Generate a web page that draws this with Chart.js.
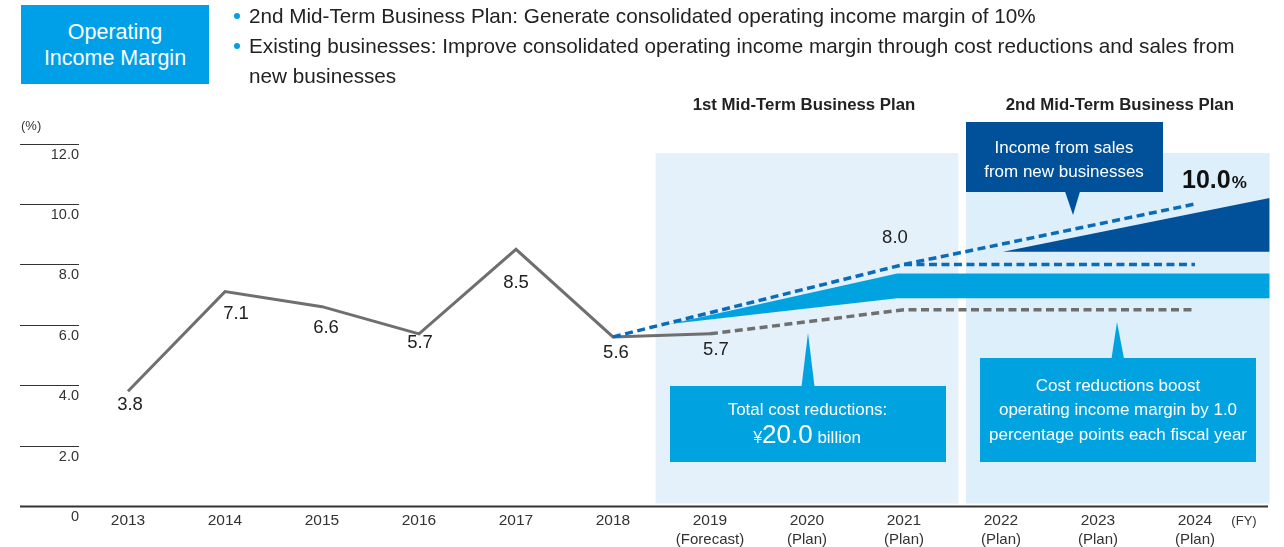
<!DOCTYPE html>
<html>
<head>
<meta charset="utf-8">
<script src="https://cdn.jsdelivr.net/npm/chart.js@4/dist/chart.umd.min.js"></script>
<style>
html,body{margin:0;padding:0;background:#fff;width:1284px;height:547px;overflow:hidden;}
#wrap{position:relative;width:1284px;height:547px;font-family:"Liberation Sans",Arial,sans-serif;}
#chart{position:absolute;left:0;top:0;}
.titlebox{position:absolute;left:21px;top:5px;width:188px;height:79px;background:#00a0e9;color:#fff;
  font-size:21.5px;line-height:26px;display:flex;align-items:center;justify-content:center;text-align:center;}
.bullets{position:absolute;left:249px;top:1px;font-size:20.7px;line-height:30px;color:#222;white-space:nowrap;}
.bullets div{position:relative;}
.bullets div::before{content:"";position:absolute;left:-15px;top:12px;width:6px;height:6px;border-radius:50%;background:#00a0e9;}
</style>
</head>
<body>
<div id="wrap">
  <canvas id="chart" width="1284" height="547"></canvas>
  <div class="titlebox">Operating<br>Income Margin</div>
  <div class="bullets">
    <div>2nd Mid-Term Business Plan: Generate consolidated operating income margin of 10%</div>
    <div>Existing businesses: Improve consolidated operating income margin through cost reductions and sales from<br>new businesses</div>
  </div>
</div>
<script>
// ---------------- data ----------------
const years = [2013, 2014, 2015, 2016, 2017, 2018, 2019, 2020, 2021, 2022, 2023, 2024];
const yearSubLabels = ['', '', '', '', '', '', '(Forecast)', '(Plan)', '(Plan)', '(Plan)', '(Plan)', '(Plan)'];
const yTicks = [0, 2, 4, 6, 8, 10, 12];

// actual results + FY2019 forecast (solid grey)
const actualYears = [2013, 2014, 2015, 2016, 2017, 2018, 2019];
const actualMargin = [3.8, 7.1, 6.6, 5.7, 8.5, 5.6, 5.7];

// margin from existing businesses without cost reductions (grey dashed)
const basePlanYears = [2019, 2021, 2024];
const basePlanMargin = [5.7, 6.5, 6.5];

// target path to 10% (blue dashed)
const targetYears = [2018, 2021, 2024];
const targetMargin = [5.6, 8.0, 10.0];

// existing business level held after 2021 (blue dashed, flat)
const existingYears = [2021, 2024];
const existingMargin = [8.0, 8.0];

// cost reduction effect band (cyan area)
const costBandYears = [2018.59, 2020.93, 2024.77];
const costBandTop = [6.03, 7.70, 7.70];
const costBandBottom = [6.03, 6.88, 6.88];

// income from new businesses (dark blue wedge)
const newBizYears = [2022.02, 2024.77];
const newBizTop = [8.42, 10.2];
const newBizBase = 8.42;

// mid-term plan periods (light backgrounds)
const phaseNames = ['1st Mid-Term Business Plan', '2nd Mid-Term Business Plan'];
const phaseStart = [2018.44, 2021.64];
const phaseEnd = [2021.56, 2024.77];
const phaseTop = 11.69;
const phaseBottom = 0.08;

// ---------------- styles ----------------
const FONT = '"Liberation Sans", Arial, sans-serif';
const CYAN = '#00a3e0';
const DARK = '#00519a';
const BLUE = '#0a6cb8';
const GREY = '#6f6f6f';
const TEXT = '#222';
const AXIS = '#333';
const PHASE_FILL = ['#e4f1fb', '#ddeffa'];

const actualLabelDx = [2, 11, 4, 1, 0, 3, 6];
const actualLabelDy = [14, 22, 21, 9, 33.5, 16, 16];

const pts = (xs, ys) => xs.map((x, i) => ({x: x, y: ys[i]}));

function callout(ctx, box, tip, fill) {
  ctx.save();
  ctx.fillStyle = fill;
  ctx.fillRect(box.x, box.y, box.w, box.h);
  ctx.beginPath();
  const by = tip.up ? box.y + 0.5 : box.y + box.h - 0.5;
  ctx.moveTo(tip.b0, by);
  ctx.lineTo(tip.x, tip.y);
  ctx.lineTo(tip.b1, by);
  ctx.closePath();
  ctx.fill();
  ctx.restore();
}
function text(ctx, s, x, y, font, color, align, base) {
  ctx.save();
  ctx.font = font;
  ctx.fillStyle = color;
  ctx.textAlign = align || 'center';
  ctx.textBaseline = base || 'middle';
  ctx.fillText(s, x, y);
  ctx.restore();
}

const overlay = {
  id: 'overlay',
  beforeDraw(chart) {
    const ctx = chart.ctx, xs = chart.scales.x, ys = chart.scales.y;
    ctx.save();
    phaseNames.forEach((n, i) => {
      const x0 = xs.getPixelForValue(phaseStart[i]);
      const x1 = xs.getPixelForValue(phaseEnd[i]);
      const y0 = ys.getPixelForValue(phaseTop);
      const y1 = ys.getPixelForValue(phaseBottom);
      ctx.fillStyle = PHASE_FILL[i];
      ctx.fillRect(x0, y0, x1 - x0, y1 - y0);
      text(ctx, n, (x0 + x1) / 2 + (i === 0 ? -3 : 2), 105, 'bold 16.8px ' + FONT, TEXT);
    });
    ctx.restore();
  },
  afterDatasetsDraw(chart) {
    const ctx = chart.ctx, xs = chart.scales.x, ys = chart.scales.y;
    const area = chart.chartArea;
    // y axis short tick lines and labels
    ctx.save();
    yTicks.forEach(v => {
      const y = Math.round(ys.getPixelForValue(v)) + 0.5;
      ctx.strokeStyle = AXIS;
      ctx.lineWidth = v === 0 ? 1.8 : 1.2;
      ctx.beginPath();
      ctx.moveTo(area.left, y);
      ctx.lineTo(v === 0 ? area.right - 2 : 79, y);
      ctx.stroke();
      text(ctx, v === 0 ? '0' : v.toFixed(1), 79, y + 10.5, '14.5px ' + FONT, AXIS, 'right');
    });
    text(ctx, '(%)', 21, 126, '13px ' + FONT, AXIS, 'left');
    // x labels
    years.forEach((yr, i) => {
      const x = xs.getPixelForValue(yr);
      text(ctx, String(yr), x, 521, '15.5px ' + FONT, AXIS);
      if (yearSubLabels[i]) text(ctx, yearSubLabels[i], x, 540, '15px ' + FONT, AXIS);
    });
    text(ctx, '(FY)', 1244, 521, '13px ' + FONT, AXIS);
    // data labels
    actualYears.forEach((yr, i) => {
      const x = xs.getPixelForValue(yr) + actualLabelDx[i];
      const y = ys.getPixelForValue(actualMargin[i]) + actualLabelDy[i];
      text(ctx, actualMargin[i].toFixed(1), x, y, '18.5px ' + FONT, TEXT);
    });
    {
      const x = xs.getPixelForValue(targetYears[1]) - 9;
      const y = ys.getPixelForValue(targetMargin[1]) - 26;
      text(ctx, targetMargin[1].toFixed(1), x, y, '18.5px ' + FONT, TEXT);
    }
    {
      ctx.save();
      ctx.font = 'bold 25px ' + FONT;
      const s = targetMargin[2].toFixed(1);
      const w = ctx.measureText(s).width;
      ctx.restore();
      const x0 = 1182;
      const base = ys.getPixelForValue(targetMargin[2]) - 16;
      text(ctx, s, x0, base, 'bold 25px ' + FONT, '#111', 'left', 'alphabetic');
      text(ctx, '%', x0 + w + 1, base, 'bold 17px ' + FONT, '#111', 'left', 'alphabetic');
    }
    // callout: income from new businesses
    callout(ctx, {x: 966, y: 122, w: 197, h: 70}, {x: 1073, y: 215, b0: 1065, b1: 1080, up: false}, DARK);
    text(ctx, 'Income from sales', 1064, 148, '17px ' + FONT, '#fff');
    text(ctx, 'from new businesses', 1064, 172, '17px ' + FONT, '#fff');
    // callout: total cost reductions
    callout(ctx, {x: 670, y: 386, w: 276, h: 76}, {x: 808, y: 333, b0: 801.5, b1: 814.5, up: true}, CYAN);
    text(ctx, 'Total cost reductions:', 807.5, 410.5, '17px ' + FONT, '#fff');
    {
      ctx.save();
      ctx.font = '16px ' + FONT; const w1 = ctx.measureText('¥').width;
      ctx.font = '26px ' + FONT; const w2 = ctx.measureText('20.0').width;
      ctx.font = '17px ' + FONT; const w3 = ctx.measureText(' billion').width;
      ctx.restore();
      let x = 807 - (w1 + w2 + w3) / 2;
      const b = 443;
      text(ctx, '¥', x, b, '16px ' + FONT, '#fff', 'left', 'alphabetic'); x += w1;
      text(ctx, '20.0', x, b, '26px ' + FONT, '#fff', 'left', 'alphabetic'); x += w2;
      text(ctx, ' billion', x, b, '17px ' + FONT, '#fff', 'left', 'alphabetic');
    }
    // callout: cost reductions boost
    callout(ctx, {x: 980, y: 358, w: 276, h: 104}, {x: 1117, y: 322, b0: 1111.5, b1: 1124, up: true}, CYAN);
    text(ctx, 'Cost reductions boost', 1118, 386.5, '17px ' + FONT, '#fff');
    text(ctx, 'operating income margin by 1.0', 1118, 410.5, '17px ' + FONT, '#fff');
    text(ctx, 'percentage points each fiscal year', 1118, 435, '17px ' + FONT, '#fff');
    ctx.restore();
  }
};

const lineBase = {pointRadius: 0, pointHoverRadius: 0, tension: 0, fill: false, spanGaps: true};

new Chart(document.getElementById('chart'), {
  type: 'line',
  data: {
    datasets: [
      Object.assign({}, lineBase, {label: 'Cost reduction effect', data: pts(costBandYears, costBandTop),
        fill: '+1', backgroundColor: CYAN, borderWidth: 0, borderColor: CYAN, order: 7}),
      Object.assign({}, lineBase, {label: 'Cost band base', data: pts(costBandYears, costBandBottom),
        borderWidth: 0, borderColor: CYAN, order: 8}),
      Object.assign({}, lineBase, {label: 'Income from new businesses', data: pts(newBizYears, newBizTop),
        fill: {value: newBizBase}, backgroundColor: DARK, borderWidth: 0, borderColor: DARK, order: 6}),
      Object.assign({}, lineBase, {label: 'Without cost reductions', data: pts(basePlanYears, basePlanMargin),
        borderColor: GREY, borderWidth: 3.5, borderDash: [8, 4.5], order: 4}),
      Object.assign({}, lineBase, {label: 'Existing businesses', data: pts(existingYears, existingMargin),
        borderColor: BLUE, borderWidth: 3.5, borderDash: [8, 4.5], order: 3}),
      Object.assign({}, lineBase, {label: 'Operating income margin', data: pts(actualYears, actualMargin),
        borderColor: GREY, borderWidth: 3, borderJoinStyle: 'miter', order: 2}),
      Object.assign({}, lineBase, {label: 'Target', data: pts(targetYears, targetMargin),
        borderColor: BLUE, borderWidth: 3.5, borderDash: [8, 4.5], order: 1})
    ]
  },
  options: {
    responsive: false,
    animation: false,
    devicePixelRatio: 1,
    layout: {padding: {left: 20, right: 14, top: 143.6, bottom: 41}},
    scales: {
      x: {type: 'linear', min: 2011.8866, max: 2024.7736, display: false},
      y: {type: 'linear', min: 0, max: 12, display: false}
    },
    plugins: {legend: {display: false}, tooltip: {enabled: false}},
    events: []
  },
  plugins: [overlay]
});
</script>
</body>
</html>
